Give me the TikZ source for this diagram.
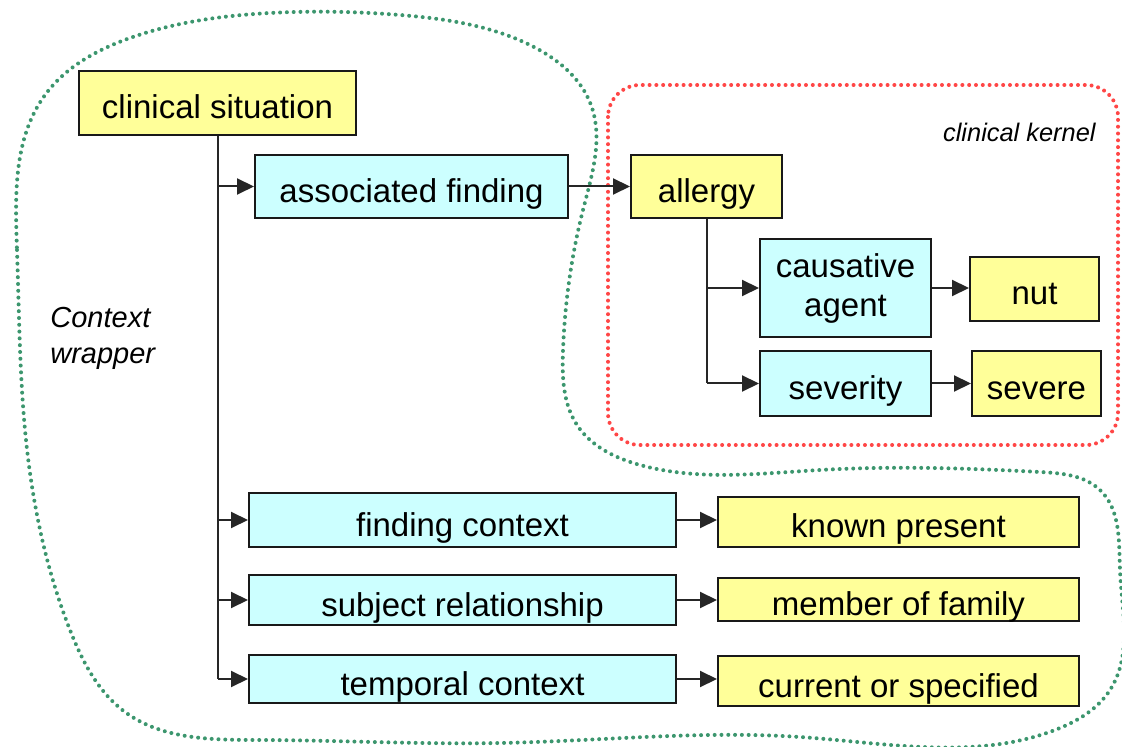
\documentclass[tikz,border=0pt]{standalone}
\usepackage{fontspec}
\setmainfont{Liberation Sans}
\usepackage{tikz}
\usetikzlibrary{hobby}
\usetikzlibrary{arrows.meta}
\usetikzlibrary{shapes}

\definecolor{valyellow}{RGB}{255,255,153}
\definecolor{attcyan}{RGB}{204,255,255}
\definecolor{wrapgreen}{RGB}{60,150,110}
\definecolor{kernred}{RGB}{255,70,70}

\tikzset{
  box/.style={draw=black!90, line width=1pt, inner sep=0pt, align=center,
    text height=16pt, text depth=0pt, font=\fontsize{16.5}{19.5}\selectfont},
  valbox/.style={box, fill=valyellow},
  attbox/.style={box, fill=attcyan},
  conn/.style={draw=black!85, line width=1pt, -{Triangle[length=8.5pt,width=8pt]}},
  trunk/.style={draw=black!85, line width=1pt},
  dotline/.style={line width=2pt, line cap=round, dash pattern=on 0pt off 3.4pt}
}

\begin{document}
\begin{tikzpicture}[x=0.5pt, y=-0.5pt]
        \useasboundingbox (0, 0) rectangle (1122, 747);
        % outlines
        \draw[dotline, wrapgreen, use Hobby shortcut, closed=true]
          (17, 250) .. (26, 440) .. (70, 630) .. (125, 712) .. (260, 740) .. (500, 743)
          .. (800, 737) .. (1055, 730) .. (1110, 690) .. (1120, 570) .. (1100, 490)
          .. (1040, 472) .. (820, 470) .. (640, 465) .. (577, 425) .. (563, 350)
          .. (583, 210) .. (591, 105) .. (530, 45) .. (400, 15) .. (270, 13) .. (130, 38) .. (45, 95);
        \draw[dotline, kernred, rounded corners=16] (608, 85) rectangle (1118, 445);
        \node[anchor=east, inner sep=0pt, font=\fontsize{12.7}{15}\itshape] (kernlbl) at (1096, 132) {clinical kernel};
        \node[anchor=west, inner sep=0pt, align=left, font=\fontsize{14.5}{18}\itshape] (wraplbl) at (50, 338) {Context\\wrapper};
        % boxes
        \node[valbox, minimum width=138.5pt, minimum height=32pt] (sit) at (217.5, 103) {clinical situation};
        \node[attbox, minimum width=156.5pt, minimum height=31.5pt] (assoc) at (411.5, 186.5) {associated finding};
        \node[valbox, minimum width=75.5pt, minimum height=31.5pt] (allergy) at (706.5, 186.5) {allergy};
        \node[attbox, minimum width=85.5pt, minimum height=49pt, text height=, text depth=] (cause) at (845.5, 288) {causative\\agent};
        \node[valbox, minimum width=64.5pt, minimum height=32pt] (nut) at (1034.5, 289) {nut};
        \node[attbox, minimum width=85.5pt, minimum height=32.5pt] (sev) at (845.5, 383.5) {severity};
        \node[valbox, minimum width=64.5pt, minimum height=32.5pt] (severe) at (1036.5, 383.5) {severe};
        \node[attbox, minimum width=213.5pt, minimum height=27pt] (findctx) at (462.5, 520) {finding context};
        \node[valbox, minimum width=180.5pt, minimum height=25pt] (known) at (898.5, 522) {known present};
        \node[attbox, minimum width=213.5pt, minimum height=25pt] (subj) at (462.5, 600) {subject relationship};
        \node[valbox, minimum width=180.5pt, minimum height=21.5pt] (member) at (898.5, 599.5) {member of family};
        \node[attbox, minimum width=213.5pt, minimum height=24pt] (temp) at (462.5, 679) {temporal context};
        \node[valbox, minimum width=180.5pt, minimum height=25pt] (current) at (898.5, 681) {current or specified};
        % connectors
        \draw[trunk] (sit.south) -- (sit.south |- temp.west);
        \draw[conn] (sit.south |- assoc.west) -- (assoc.west);
        \draw[conn] (sit.south |- findctx.west) -- (findctx.west);
        \draw[conn] (sit.south |- subj.west) -- (subj.west);
        \draw[conn] (sit.south |- temp.west) -- (temp.west);
        \draw[conn] (assoc.east) -- (allergy.west);
        \draw[trunk] (allergy.south) -- (allergy.south |- sev.west);
        \draw[conn] (allergy.south |- cause.west) -- (cause.west);
        \draw[conn] (allergy.south |- sev.west) -- (sev.west);
        \draw[conn] (cause.east) -- (nut.west |- cause.east);
        \draw[conn] (sev.east) -- (severe.west);
        \draw[conn] (findctx.east) -- (known.west |- findctx.east);
        \draw[conn] (subj.east) -- (member.west |- subj.east);
        \draw[conn] (temp.east) -- (current.west |- temp.east);
      \end{tikzpicture}
\end{document}
